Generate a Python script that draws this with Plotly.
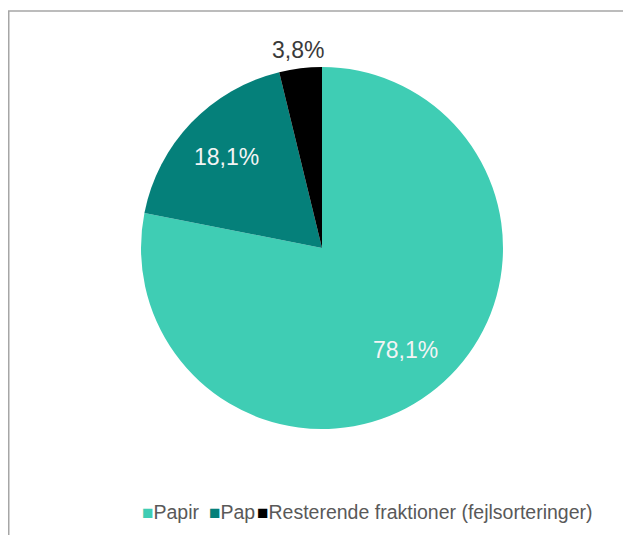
import math
import plotly.graph_objects as go

categories = ["Papir", "Pap", "Resterende fraktioner (fejlsorteringer)"]
values = [78.1, 18.1, 3.8]
value_labels = ["78,1%", "18,1%", "3,8%"]
colors = ["#3FCDB4", "#05807A", "#000000"]
label_inside = [True, True, False]
label_colors = ["#F4F4F4", "#F4F4F4", "#3A3A3A"]
legend_symbol_x = [144, 211, 259]  # px where each legend entry starts (reference page coords)

W, H = 631, 535
OX, OY = 8, 8            # page body margin of the exported html
cx, cy, r = 322 - OX, 248 - OY, 181
FONT = "Liberation Sans, Arial, sans-serif"

fig = go.Figure()
fig.add_trace(go.Pie(
    labels=categories,
    values=values,
    textinfo="none",
    sort=False,
    direction="clockwise",
    rotation=0,
    marker=dict(colors=colors, line=dict(width=0)),
    domain=dict(x=[(cx - r) / W, (cx + r) / W], y=[(H - cy - r) / H, (H - cy + r) / H]),
    showlegend=False,
    hoverinfo="label+percent",
))

# value labels at each slice's mid angle
total = sum(values)
annotations = []
cum = 0.0
for v, txt, inside, col in zip(values, value_labels, label_inside, label_colors):
    mid = (cum + v / 2) / total * 2 * math.pi
    cum += v
    rr = 0.73 * r if inside else 1.10 * r
    px = cx + rr * math.sin(mid)
    py = cy - rr * math.cos(mid)
    annotations.append(dict(
        x=px / W, y=(H - py) / H, xref="paper", yref="paper",
        text=txt, showarrow=False, xanchor="center", yanchor="middle",
        font=dict(family=FONT, size=23, color=col),
    ))

# legend entries, one legend per category so each sits where the reference has it
legend_names = ["legend", "legend2", "legend3"]
for name, c, col in zip(legend_names, categories, colors):
    fig.add_trace(go.Scatter(
        x=[None], y=[None], mode="markers",
        name=f'<span style="color:{col};font-size:19px">■</span>{c}',
        marker=dict(symbol="square", size=1, color="rgba(0,0,0,0)"),
        legend=name, showlegend=True, hoverinfo="skip",
    ))

legend_style = dict(
    orientation="h", xanchor="left", yanchor="middle",
    y=(H - (512 - OY)) / H,
    font=dict(family=FONT, size=19.5, color="#595959"),
    bgcolor="rgba(0,0,0,0)", itemwidth=30,
)
layout_legends = {}
for name, sx in zip(legend_names, legend_symbol_x):
    layout_legends[name] = dict(legend_style, x=(sx - OX - 42) / W)

fig.update_layout(
    width=W, height=H,
    margin=dict(l=0, r=0, t=0, b=0),
    paper_bgcolor="white",
    plot_bgcolor="white",
    xaxis=dict(visible=False),
    yaxis=dict(visible=False),
    annotations=annotations,
    shapes=[dict(
        type="rect", xref="paper", yref="paper",
        x0=0.75 / W, x1=1.05, y0=-0.05, y1=(H - (11 - OY)) / H,
        line=dict(color="#A6A6A6", width=1.5), fillcolor="rgba(0,0,0,0)",
        layer="below",
    )],
    **layout_legends,
)

fig.write_html("out.html")
